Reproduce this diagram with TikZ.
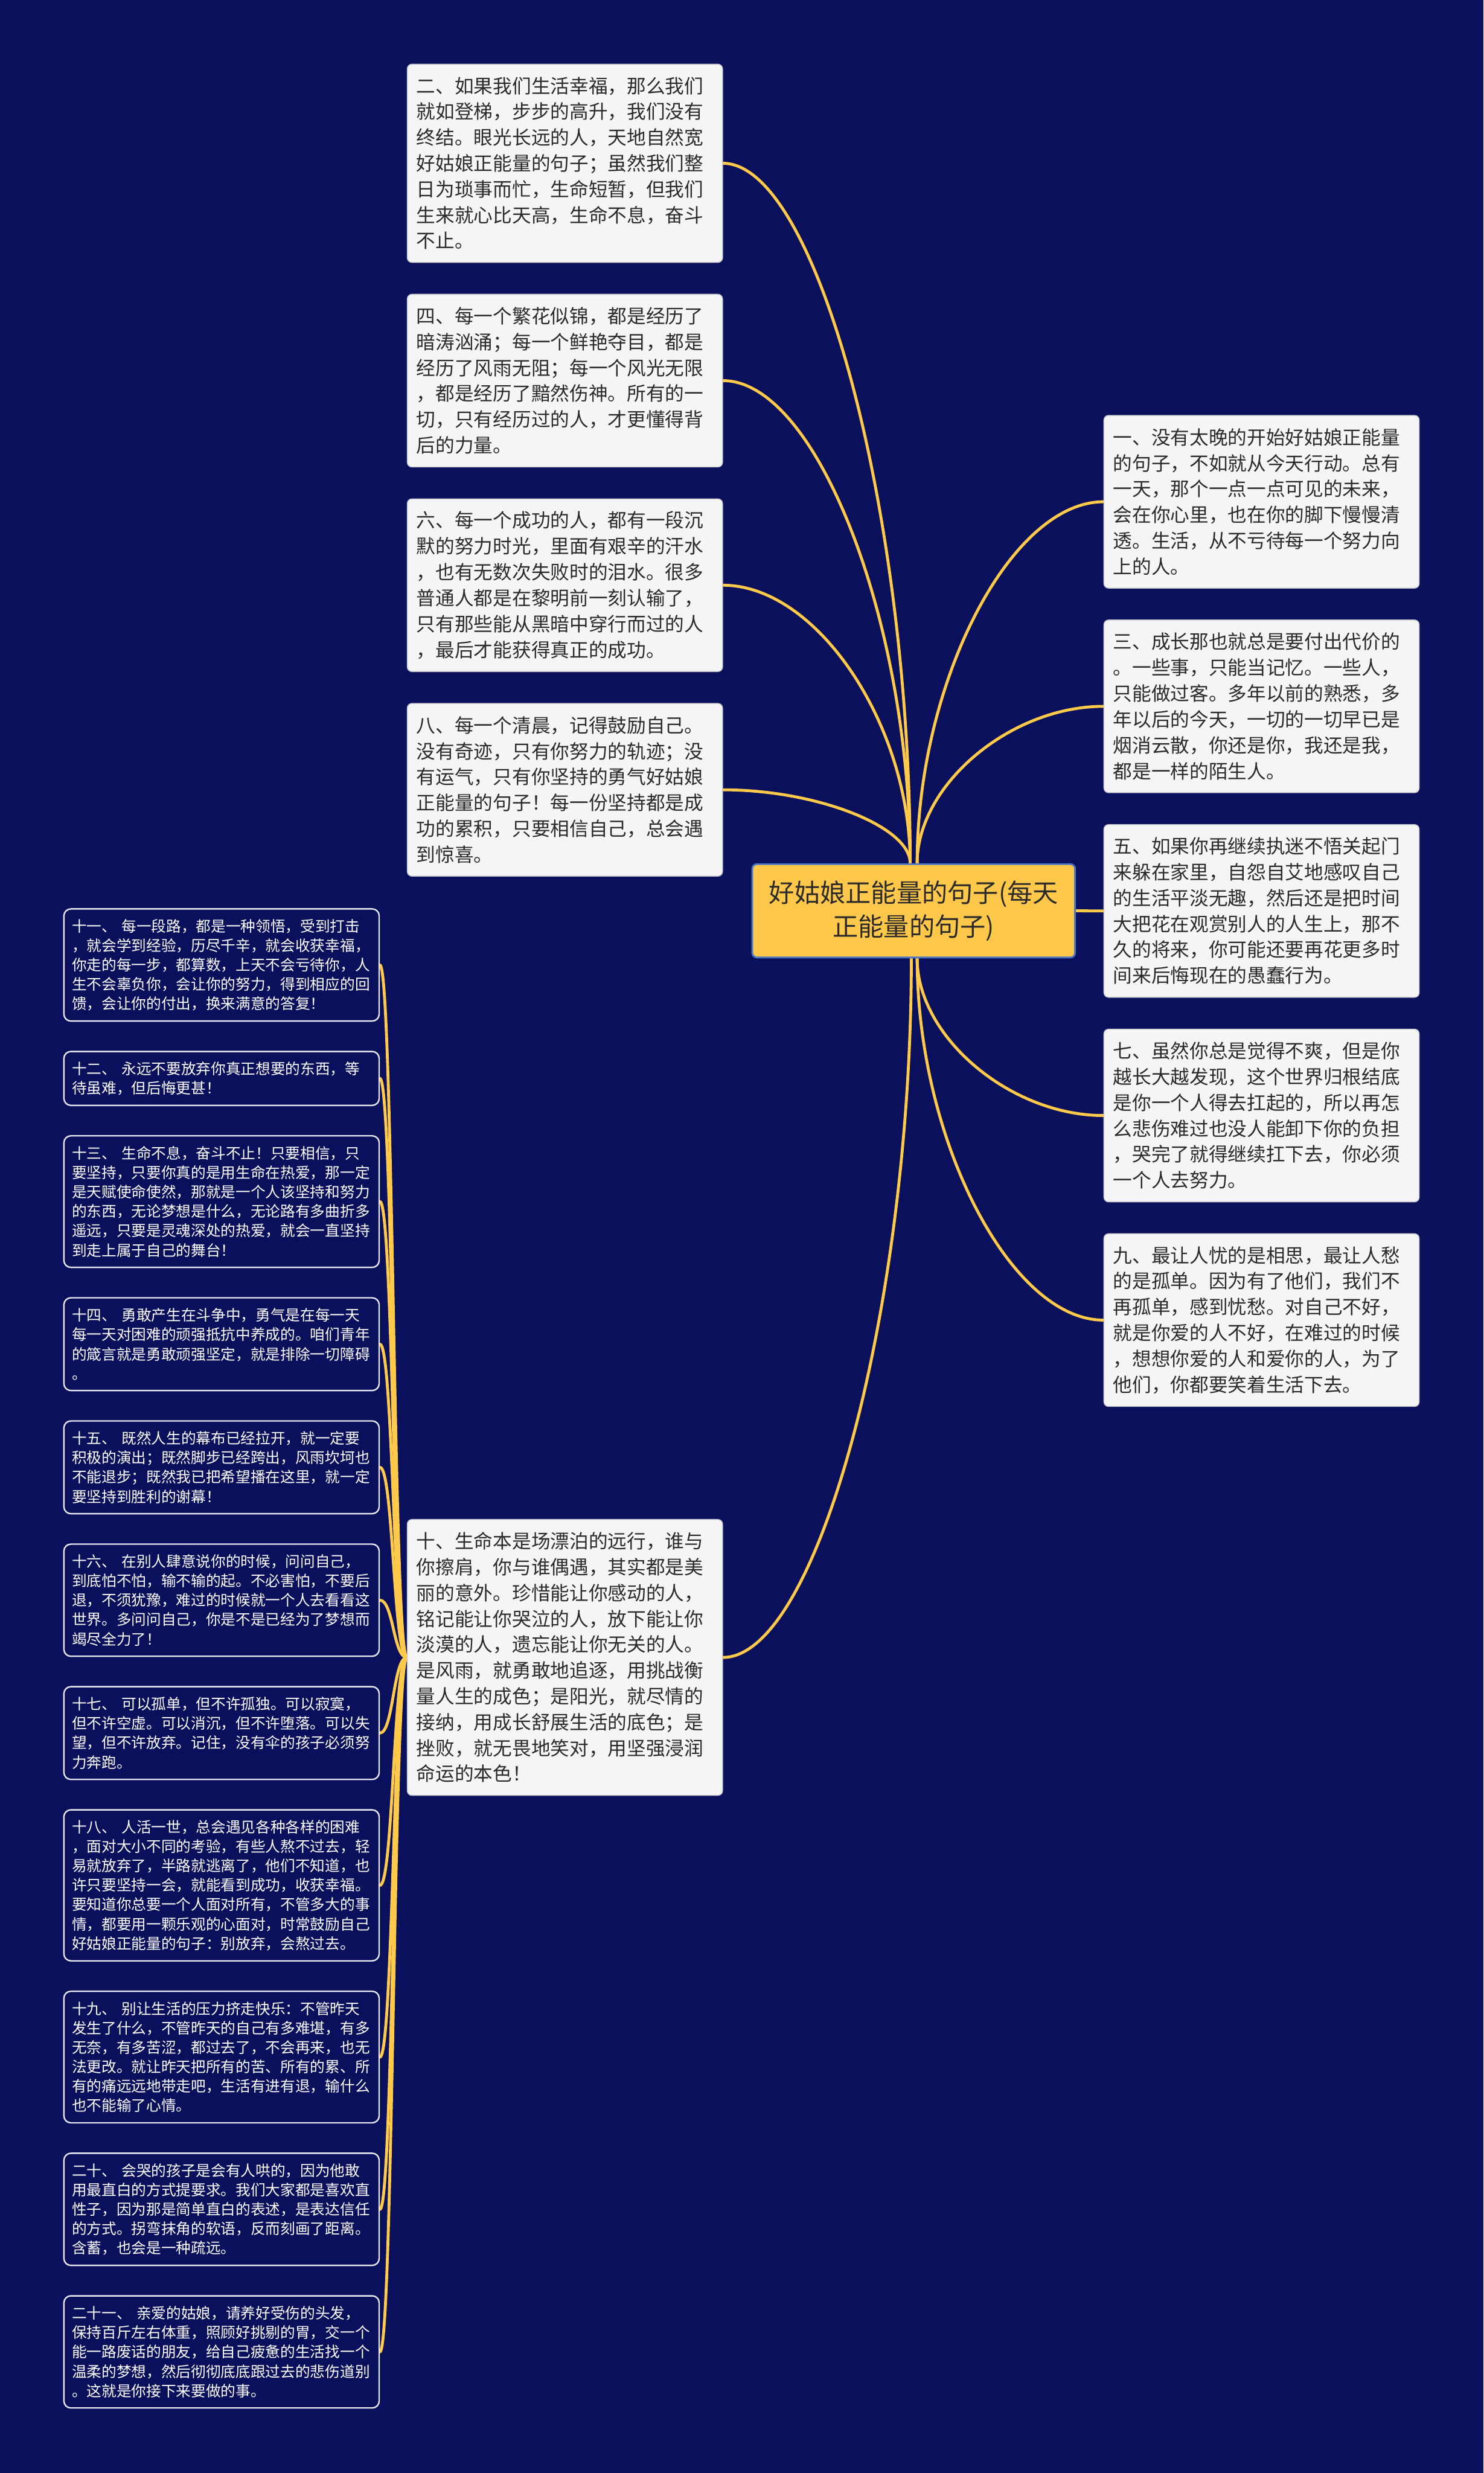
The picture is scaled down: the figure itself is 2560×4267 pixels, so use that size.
\documentclass[tikz,border=0pt]{standalone}
\usepackage{fontspec}
\setmainfont{Noto Sans CJK SC}
\usetikzlibrary{calc}
\definecolor{bgcol}{HTML}{0B105C}
\definecolor{linkcol}{HTML}{FFC94A}
\definecolor{rootfill}{HTML}{FFC84A}
\definecolor{rootedge}{HTML}{4A78C4}
\definecolor{cardfill}{HTML}{F5F5F5}
\definecolor{cardedge}{HTML}{C8C8CC}
\definecolor{txtdark}{HTML}{2B2B2B}
\definecolor{smalledge}{HTML}{E6E6EE}
\pgfdeclarelayer{bglayer}
\pgfdeclarelayer{linklayer}
\pgfsetlayers{bglayer,linklayer,main}
\newcommand\linkV[3]{\coordinate (m#3) at ($(#1)!0.5!(#2)$);\draw[link] (#1) .. controls (#1 |- m#3) and (m#3 |- #2) .. (#2);}
\newcommand\linkS[3]{\coordinate (m#3) at ($(#1)!0.5!(#2)$);\draw[link] (#1) .. controls (m#3 |- #1) and (m#3 |- #2) .. (#2);}
\tikzset{
  card/.style={draw=cardedge, line width=1.5pt, fill=cardfill, rounded corners=8pt,
    text=txtdark, font=\fontsize{33}{44.6}\selectfont, align=left,
    text width=512pt, inner xsep=16pt, inner ysep=0pt, anchor=north west, minimum height=#1},
  smallcard/.style={draw=smalledge, line width=2.5pt, fill=bgcol, rounded corners=12pt,
    text=white, font=\fontsize{25.7}{33.5}\selectfont, align=left,
    text width=516pt, inner xsep=14pt, inner ysep=0pt, anchor=north west, minimum height=#1},
  rootbox/.style={draw=rootedge, line width=3pt, fill=rootfill, rounded corners=8pt,
    text=txtdark, font=\fontsize{44}{58}\selectfont, align=center,
    minimum width=557pt, minimum height=161pt, inner sep=0pt},
  link/.style={draw=linkcol, line width=5pt, line cap=round}
}
\begin{document}
\begin{tikzpicture}[x=1pt,y=-1pt]
\begin{pgfonlayer}{bglayer}
\fill[bgcol] (0,0) rectangle (2560,4267);
\end{pgfonlayer}
\useasboundingbox (0,0) rectangle (2560,4267);

\node[rootbox] (root) at (1576.5,1571.5) {好姑娘正能量的句子(每天\\正能量的句子)};

\node[card=342pt] (n2) at (702,110) {二、如果我们生活幸福，那么我们\\就如登梯，步步的高升，我们没有\\终结。眼光长远的人，天地自然宽\\好姑娘正能量的句子；虽然我们整\\日为琐事而忙，生命短暂，但我们\\生来就心比天高，生命不息，奋斗\\不止。};
\node[card=298pt] (n4) at (702,507) {四、每一个繁花似锦，都是经历了\\暗涛汹涌；每一个鲜艳夺目，都是\\经历了风雨无阻；每一个风光无限\\，都是经历了黯然伤神。所有的一\\切，只有经历过的人，才更懂得背\\后的力量。};
\node[card=298pt] (n6) at (702,860) {六、每一个成功的人，都有一段沉\\默的努力时光，里面有艰辛的汗水\\，也有无数次失败时的泪水。很多\\普通人都是在黎明前一刻认输了，\\只有那些能从黑暗中穿行而过的人\\，最后才能获得真正的成功。};
\node[card=298pt] (n8) at (702,1213) {八、每一个清晨，记得鼓励自己。\\没有奇迹，只有你努力的轨迹；没\\有运气，只有你坚持的勇气好姑娘\\正能量的句子！每一份坚持都是成\\功的累积，只要相信自己，总会遇\\到惊喜。};
\node[card=476pt] (n10) at (702,2621) {十、生命本是场漂泊的远行，谁与\\你擦肩，你与谁偶遇，其实都是美\\丽的意外。珍惜能让你感动的人，\\铭记能让你哭泣的人，放下能让你\\淡漠的人，遗忘能让你无关的人。\\是风雨，就勇敢地追逐，用挑战衡\\量人生的成色；是阳光，就尽情的\\接纳，用成长舒展生活的底色；是\\挫败，就无畏地笑对，用坚强浸润\\命运的本色！};

\node[card=298pt] (n1) at (1904,716) {一、没有太晚的开始好姑娘正能量\\的句子，不如就从今天行动。总有\\一天，那个一点一点可见的未来，\\会在你心里，也在你的脚下慢慢清\\透。生活，从不亏待每一个努力向\\上的人。};
\node[card=298pt] (n3) at (1904,1069) {三、成长那也就总是要付出代价的\\。一些事，只能当记忆。一些人，\\只能做过客。多年以前的熟悉，多\\年以后的今天，一切的一切早已是\\烟消云散，你还是你，我还是我，\\都是一样的陌生人。};
\node[card=298pt] (n5) at (1904,1422) {五、如果你再继续执迷不悟关起门\\来躲在家里，自怨自艾地感叹自己\\的生活平淡无趣，然后还是把时间\\大把花在观赏别人的人生上，那不\\久的将来，你可能还要再花更多时\\间来后悔现在的愚蠢行为。};
\node[card=298pt] (n7) at (1904,1775) {七、虽然你总是觉得不爽，但是你\\越长大越发现，这个世界归根结底\\是你一个人得去扛起的，所以再怎\\么悲伤难过也没人能卸下你的负担\\，哭完了就得继续扛下去，你必须\\一个人去努力。};
\node[card=298pt] (n9) at (1904,2128) {九、最让人忧的是相思，最让人愁\\的是孤单。因为有了他们，我们不\\再孤单，感到忧愁。对自己不好，\\就是你爱的人不好，在难过的时候\\，想想你爱的人和爱你的人，为了\\他们，你都要笑着生活下去。};

\node[smallcard=193.5pt] (n11) at (109,1567) {十一、 每一段路，都是一种领悟，受到打击\\，就会学到经验，历尽千辛，就会收获幸福，\\你走的每一步，都算数，上天不会亏待你，人\\生不会辜负你，会让你的努力，得到相应的回\\馈，会让你的付出，换来满意的答复！};
\node[smallcard=93pt] (n12) at (109,1813) {十二、 永远不要放弃你真正想要的东西，等\\待虽难，但后悔更甚！};
\node[smallcard=227pt] (n13) at (109,1958.5) {十三、 生命不息，奋斗不止！只要相信，只\\要坚持，只要你真的是用生命在热爱，那一定\\是天赋使命使然，那就是一个人该坚持和努力\\的东西，无论梦想是什么，无论路有多曲折多\\遥远，只要是灵魂深处的热爱，就会一直坚持\\到走上属于自己的舞台！};
\node[smallcard=160pt] (n14) at (109,2238) {十四、 勇敢产生在斗争中，勇气是在每一天\\每一天对困难的顽强抵抗中养成的。咱们青年\\的箴言就是勇敢顽强坚定，就是排除一切障碍\\。};
\node[smallcard=160pt] (n15) at (109,2450.5) {十五、 既然人生的幕布已经拉开，就一定要\\积极的演出；既然脚步已经跨出，风雨坎坷也\\不能退步；既然我已把希望播在这里，就一定\\要坚持到胜利的谢幕！};
\node[smallcard=193.5pt] (n16) at (109,2663) {十六、 在别人肆意说你的时候，问问自己，\\到底怕不怕，输不输的起。不必害怕，不要后\\退，不须犹豫，难过的时候就一个人去看看这\\世界。多问问自己，你是不是已经为了梦想而\\竭尽全力了！};
\node[smallcard=160pt] (n17) at (109,2909) {十七、 可以孤单，但不许孤独。可以寂寞，\\但不许空虚。可以消沉，但不许堕落。可以失\\望，但不许放弃。记住，没有伞的孩子必须努\\力奔跑。};
\node[smallcard=260.5pt] (n18) at (109,3121.5) {十八、 人活一世，总会遇见各种各样的困难\\，面对大小不同的考验，有些人熬不过去，轻\\易就放弃了，半路就逃离了，他们不知道，也\\许只要坚持一会，就能看到成功，收获幸福。\\要知道你总要一个人面对所有，不管多大的事\\情，都要用一颗乐观的心面对，时常鼓励自己\\好姑娘正能量的句子：别放弃，会熬过去。};
\node[smallcard=227pt] (n19) at (109,3434.5) {十九、 别让生活的压力挤走快乐：不管昨天\\发生了什么，不管昨天的自己有多难堪，有多\\无奈，有多苦涩，都过去了，不会再来，也无\\法更改。就让昨天把所有的苦、所有的累、所\\有的痛远远地带走吧，生活有进有退，输什么\\也不能输了心情。};
\node[smallcard=193.5pt] (n20) at (109,3714) {二十、 会哭的孩子是会有人哄的，因为他敢\\用最直白的方式提要求。我们大家都是喜欢直\\性子，因为那是简单直白的表述，是表达信任\\的方式。拐弯抹角的软语，反而刻画了距离。\\含蓄，也会是一种疏远。};
\node[smallcard=193.5pt] (n21) at (109,3960) {二十一、 亲爱的姑娘，请养好受伤的头发，\\保持百斤左右体重，照顾好挑剔的胃，交一个\\能一路废话的朋友，给自己疲惫的生活找一个\\温柔的梦想，然后彻彻底底跟过去的悲伤道别\\。这就是你接下来要做的事。};

\begin{pgfonlayer}{linklayer}
\coordinate (rTL) at ([xshift=-6pt]root.north);
\coordinate (rTR) at ([xshift=6pt]root.north);
\coordinate (rBL) at ([xshift=-4pt]root.south);
\coordinate (rBR) at ([xshift=6pt]root.south);
\linkV{rTL}{n2.east}{a}
\linkV{rTL}{n4.east}{b}
\linkV{rTL}{n6.east}{c}
\linkV{rTL}{n8.east}{d}
\linkV{rTR}{n1.west}{e}
\linkV{rTR}{n3.west}{f}
\draw[link] (root.east) -- (n5.west);
\linkV{rBR}{n7.west}{g}
\linkV{rBR}{n9.west}{h}
\linkV{rBL}{n10.east}{i}
\linkS{n10.west}{n11.east}{s1}
\linkS{n10.west}{n12.east}{s2}
\linkS{n10.west}{n13.east}{s3}
\linkS{n10.west}{n14.east}{s4}
\linkS{n10.west}{n15.east}{s5}
\linkS{n10.west}{n16.east}{s6}
\linkS{n10.west}{n17.east}{s7}
\linkS{n10.west}{n18.east}{s8}
\linkS{n10.west}{n19.east}{s9}
\linkS{n10.west}{n20.east}{s10}
\linkS{n10.west}{n21.east}{s11}
\end{pgfonlayer}
\end{tikzpicture}
\end{document}
